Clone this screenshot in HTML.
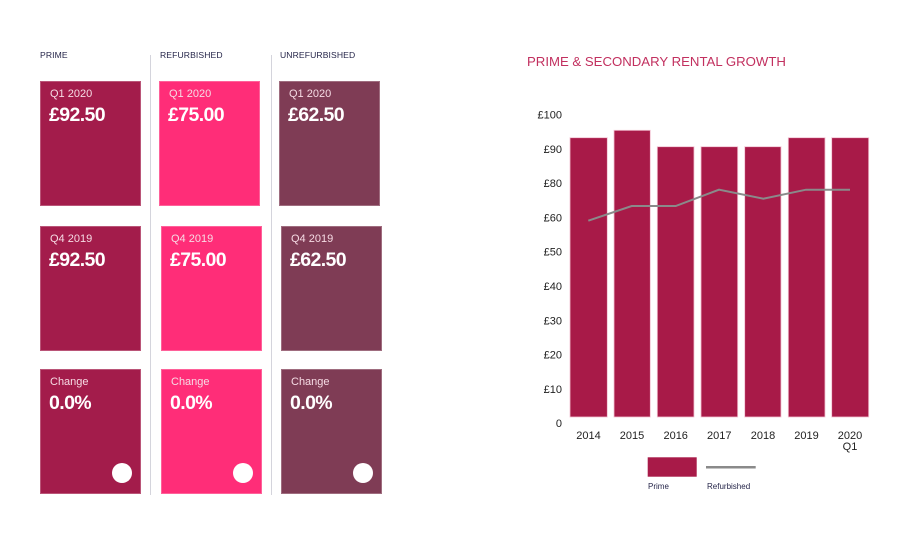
<!DOCTYPE html>
<html><head><meta charset="utf-8"><style>
html,body{margin:0;padding:0;background:#fff;}
body{width:908px;height:545px;position:relative;overflow:hidden;font-family:"Liberation Sans",Arial,sans-serif;}
.h{position:absolute;top:50px;font-size:8.6px;color:#26264a;letter-spacing:0.1px;}
.div{position:absolute;top:55px;width:1px;height:440px;background:#d4d4dc;}
.card{position:absolute;width:101px;height:125px;box-sizing:border-box;border:1px solid rgba(255,255,255,0.25);}
.p{background:#a31c4b;}
.r{background:#ff2d78;}
.u{background:#7f3c55;}
.lab{position:absolute;left:9px;top:6px;font-size:11px;color:#f6dbe4;}
.val{position:absolute;left:8px;top:22px;font-size:19.5px;font-weight:bold;color:#fff;letter-spacing:-0.6px;}
.dot{position:absolute;left:71px;top:93px;width:20px;height:20px;border-radius:50%;background:#fff;}
</style></head><body>
<div class="h" style="left:40px">PRIME</div>
<div class="h" style="left:160px">REFURBISHED</div>
<div class="h" style="left:280px">UNREFURBISHED</div>
<div class="div" style="left:150px"></div>
<div class="div" style="left:271px"></div>

<div class="card p" style="left:40px;top:81px"><div class="lab">Q1 2020</div><div class="val">£92.50</div></div>
<div class="card r" style="left:159px;top:81px"><div class="lab">Q1 2020</div><div class="val">£75.00</div></div>
<div class="card u" style="left:279px;top:81px"><div class="lab">Q1 2020</div><div class="val">£62.50</div></div>

<div class="card p" style="left:40px;top:226px"><div class="lab">Q4 2019</div><div class="val">£92.50</div></div>
<div class="card r" style="left:161px;top:226px"><div class="lab">Q4 2019</div><div class="val">£75.00</div></div>
<div class="card u" style="left:281px;top:226px"><div class="lab">Q4 2019</div><div class="val">£62.50</div></div>

<div class="card p" style="left:40px;top:369px"><div class="lab">Change</div><div class="val">0.0%</div><div class="dot"></div></div>
<div class="card r" style="left:161px;top:369px"><div class="lab">Change</div><div class="val">0.0%</div><div class="dot"></div></div>
<div class="card u" style="left:281px;top:369px"><div class="lab">Change</div><div class="val">0.0%</div><div class="dot"></div></div>

<svg style="position:absolute;left:0;top:0" width="908" height="545" xmlns="http://www.w3.org/2000/svg" font-family="Liberation Sans, Arial, sans-serif">
<text x="527" y="66" font-size="13.2" fill="#c2305f">PRIME &amp; SECONDARY RENTAL GROWTH</text>
<g font-size="11" fill="#222" text-anchor="end">
<text x="562" y="118.5">£100</text>
<text x="562" y="152.8">£90</text>
<text x="562" y="187.1">£80</text>
<text x="562" y="221.4">£60</text>
<text x="562" y="255.7">£50</text>
<text x="562" y="290">£40</text>
<text x="562" y="324.3">£30</text>
<text x="562" y="358.6">£20</text>
<text x="562" y="392.9">£10</text>
<text x="562" y="427.2">0</text>
</g>
<g fill="#a81a48" stroke="#f3c3d3" stroke-width="0.8">
<rect x="570" y="137.7" width="37.3" height="279.3"/>
<rect x="614" y="130.3" width="36.3" height="286.7"/>
<rect x="657.3" y="146.7" width="36.7" height="270.3"/>
<rect x="701" y="146.7" width="36.7" height="270.3"/>
<rect x="744.7" y="146.7" width="36.3" height="270.3"/>
<rect x="788.3" y="137.7" width="36.7" height="279.3"/>
<rect x="831.7" y="137.7" width="37" height="279.3"/>
</g>
<polyline points="588.3,220.7 631.7,206 675.7,206 719,189.7 763.3,198.7 806,189.7 850,189.7" fill="none" stroke="#8a8a8a" stroke-width="2"/>
<g font-size="11" fill="#222" text-anchor="middle">
<text x="588.5" y="439">2014</text>
<text x="632" y="439">2015</text>
<text x="675.7" y="439">2016</text>
<text x="719.3" y="439">2017</text>
<text x="763" y="439">2018</text>
<text x="806.5" y="439">2019</text>
<text x="850" y="439">2020</text>
<text x="850" y="450">Q1</text>
</g>
<rect x="647.7" y="457.3" width="49" height="19.4" fill="#a81a48"/>
<line x1="706" y1="467.3" x2="755.7" y2="467.3" stroke="#8a8a8a" stroke-width="2.5"/>
<g font-size="8" fill="#26264a">
<text x="648" y="489">Prime</text>
<text x="707" y="489">Refurbished</text>
</g>
</svg>
</body></html>
